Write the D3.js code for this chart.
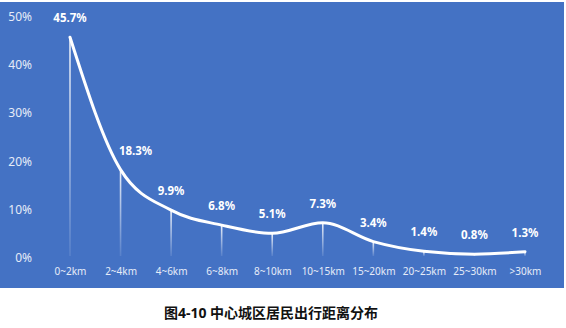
<!DOCTYPE html>
<html><head><meta charset="utf-8">
<script src="https://cdn.jsdelivr.net/npm/d3@7"></script>
<style>body{margin:0;background:#fff;}svg{display:block;}</style>
</head><body>
<svg id="c" width="566" height="328"></svg>
<script>
const categories = ["0~2km","2~4km","4~6km","6~8km","8~10km","10~15km","15~20km","20~25km","25~30km",">30km"];
const values = [45.7, 18.3, 9.9, 6.8, 5.1, 7.3, 3.4, 1.4, 0.8, 1.3];
const yTicks = [0, 10, 20, 30, 40, 50];
const title = "图4-10 中心城区居民出行距离分布";

const svg = d3.select("#c");
const font = "'Noto Sans','Noto Sans CJK SC',sans-serif";

svg.append("rect").attr("x",0).attr("y",2).attr("width",564).attr("height",286).attr("fill","#4472c4");

const x = d3.scalePoint().domain(categories).range([70, 525]);
const y = d3.scaleLinear().domain([0, 50]).range([258, 16.5]);

const defs = svg.append("defs");
const g = defs.append("linearGradient").attr("id","drop").attr("x1",0).attr("y1",0).attr("x2",0).attr("y2",1);
g.append("stop").attr("offset","0%").attr("stop-color","#fff").attr("stop-opacity",0.9);
g.append("stop").attr("offset","100%").attr("stop-color","#fff").attr("stop-opacity",0.1);

// y axis
const yAxis = d3.axisLeft(y).tickValues(yTicks).tickFormat(d => d + "%").tickSize(0).tickPadding(0);
const ya = svg.append("g").attr("transform","translate(32,0)").call(yAxis);
ya.select(".domain").remove();
ya.selectAll("text").attr("fill","#e6ecf8").style("font-family",font).style("font-size","12px");

// x axis
const xAxis = d3.axisBottom(x).tickSize(0).tickPadding(0);
const xa = svg.append("g").attr("transform","translate(0,268)").call(xAxis);
xa.select(".domain").remove();
xa.selectAll("text").attr("fill","#e6ecf8").style("font-family",font).style("font-size","10px");

const data = categories.map((c,i)=>({c, v: values[i], i}));

// drop lines
svg.append("g").selectAll("rect").data(data).join("rect")
  .attr("x", d => x(d.c) - 0.8).attr("width", 1.6)
  .attr("y", d => y(d.v)).attr("height", d => y(0) - 2 - y(d.v))
  .attr("fill","url(#drop)");

// line
const line = d3.line().x(d => x(d.c)).y(d => y(d.v)).curve(d3.curveMonotoneX);
svg.append("path").datum(data).attr("d", line).attr("fill","none")
  .attr("stroke","#fff").attr("stroke-width",3).attr("stroke-linejoin","round").attr("stroke-linecap","round");

// labels (the steep second point's label is nudged right to clear the line)
svg.append("g").selectAll("text").data(data).join("text")
  .attr("x", d => x(d.c) + (d.i === 1 ? 15 : 0)).attr("y", d => y(d.v) - 15)
  .attr("text-anchor","middle").attr("fill","#fff")
  .style("font-family",font).style("font-size","11.5px").style("font-weight","bold")
  .text(d => d.v.toFixed(1) + "%");

// title
svg.append("text").attr("x",271).attr("y",318).attr("text-anchor","middle")
  .attr("fill","#111").style("font-family",font).style("font-size","14px").style("font-weight","bold")
  .text(title);
</script>
</body></html>
